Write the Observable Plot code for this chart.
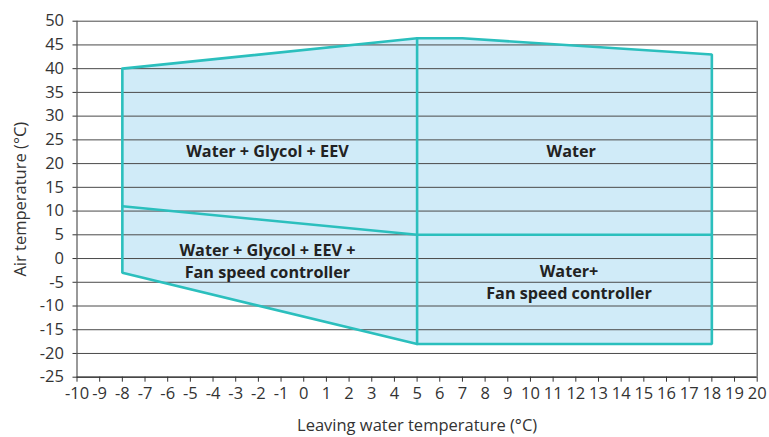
<!DOCTYPE html>
<html>
<head>
<meta charset="utf-8">
<script src="https://cdn.jsdelivr.net/npm/d3@7"></script>
<script src="https://cdn.jsdelivr.net/npm/@observablehq/plot@0.6"></script>
<style>
  html, body { margin: 0; padding: 0; background: #fff; }
</style>
</head>
<body>
<div id="chart"></div>
<script>
// Tick labels
const xTicks = [-10,-9,-8,-7,-6,-5,-4,-3,-2,-1,0,1,2,3,4,5,6,7,8,9,10,11,12,13,14,15,16,17,18,19,20];
const yTicks = [-25,-20,-15,-10,-5,0,5,10,15,20,25,30,35,40,45,50];

// Operating envelope: upper and lower boundary at each breakpoint
const envX      = [-8, 5, 7, 18];
const envTop    = [40, 46.4, 46.4, 43];
const envBottom = [-3, -18, -18, -18];

// Divider lines
const dividerVX = [5, 5];
const dividerVY = [46.4, -18];
const dividerHX = [-8, 5, 18];
const dividerHY = [11, 5, 5];

// Region labels
const labelText = ["Water + Glycol + EEV", "Water", "Water + Glycol + EEV +\nFan speed controller", "Water+\nFan speed controller"];
const labelX = [-1.6, 11.8, -1.6, 11.7];
const labelY = [22.8, 22.8, -0.2, -4.8];

const envelope = envX.map((x, i) => ({x, top: envTop[i], bottom: envBottom[i]}));
const outline = [
  ...envX.map((x, i) => ({x, y: envTop[i]})),
  ...envX.slice().reverse().map((x, i) => ({x, y: envBottom[envX.length - 1 - i]})),
];
outline.push(outline[0]);
const vLine = dividerVX.map((x, i) => ({x, y: dividerVY[i]}));
const hLine = dividerHX.map((x, i) => ({x, y: dividerHY[i]}));
const labels = labelText.map((t, i) => ({t, x: labelX[i], y: labelY[i]}));

const teal = "#2bbfbd";
const chart = Plot.plot({
  width: 769,
  height: 437,
  marginLeft: 76.5,
  marginRight: 12.3,
  marginTop: 20.7,
  marginBottom: 60.3,
  style: {fontFamily: "'Open Sans', 'Noto Sans', sans-serif", color: "#333", background: "#fff"},
  x: {domain: [-10, 20]},
  y: {domain: [-25, 50]},
  marks: [
    Plot.areaY(envelope, {x: "x", y1: "bottom", y2: "top", fill: "#d0ebf8"}),
    Plot.ruleY(yTicks, {stroke: "#4a4a4a", strokeWidth: 1}),
    Plot.ruleX([-10, 20], {y1: -25, y2: 50, stroke: "#555", strokeWidth: 1.2}),
    Plot.ruleY([-25], {stroke: "#333", strokeWidth: 1.2}),
    Plot.line(outline, {x: "x", y: "y", stroke: teal, strokeWidth: 2.6, strokeLinejoin: "miter"}),
    Plot.line(vLine, {x: "x", y: "y", stroke: teal, strokeWidth: 2.6}),
    Plot.line(hLine, {x: "x", y: "y", stroke: teal, strokeWidth: 2.6}),
    Plot.text(labels, {x: "x", y: "y", text: "t", fontSize: 16.2, fontWeight: "bold", fill: "#222", lineHeight: 1.36}),
    Plot.axisX({
      ticks: xTicks, tickFormat: d => String(d), tickSize: 5, tickPadding: 5,
      fontSize: 16.5, stroke: "#333", label: null
    }),
    Plot.axisY({
      ticks: yTicks, tickFormat: d => String(d), tickSize: 4, tickPadding: 9,
      fontSize: 16.5, stroke: "#333", label: null
    }),
    Plot.axisX({
      ticks: [], tickSize: 0, fontSize: 16.5,
      label: "Leaving water temperature (°C)", labelAnchor: "center", labelArrow: false, labelOffset: 54
    }),
    Plot.axisY({
      ticks: [], tickSize: 0, fontSize: 16.5,
      label: "Air temperature (°C)", labelAnchor: "center", labelArrow: false, labelOffset: 63
    })
  ]
});
document.getElementById("chart").appendChild(chart);
</script>
</body>
</html>
